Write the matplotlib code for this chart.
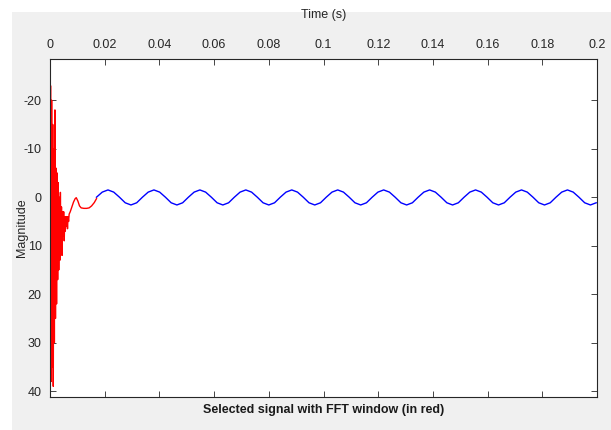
import numpy as np
import matplotlib
matplotlib.use('Agg')
import matplotlib.pyplot as plt
from matplotlib.patches import Rectangle

# red part: FFT window (transient at start)
red_t = [0.0000, 0.0002, 0.0004, 0.0006, 0.0008, 0.0010, 0.0012, 0.0014,
         0.0016, 0.0018, 0.0020, 0.0022, 0.0024, 0.0026, 0.0028, 0.0030,
         0.0032, 0.0034, 0.0036, 0.0038, 0.0040, 0.0042, 0.0044, 0.0046,
         0.0048, 0.0050, 0.0052, 0.0054, 0.0056, 0.0058, 0.0060, 0.0062,
         0.0064, 0.0066, 0.0068, 0.0070, 0.0074, 0.0080, 0.0086, 0.0092,
         0.0096, 0.0102, 0.0108, 0.0114, 0.0124, 0.0134, 0.0143, 0.0152,
         0.0162, 0.0170]
red_y = [41.0, -23.0, 38.0, -20.0, 35.0, -15.0, 39.0, -10.0,
         30.0, -18.0, 25.0, -6.0, 22.0, -5.0, 17.0, -3.0,
         15.0, 0.0, 13.0, -1.0, 10.0, 2.0, 12.0, 3.0,
         8.0, 3.0, 9.0, 4.0, 7.0, 4.0, 6.0, 4.0,
         6.5, 4.0, 5.0, 3.5, 3.0, 2.0, 1.0, 0.3,
         0.1, 0.8, 1.8, 2.2, 2.3, 2.3, 2.2, 1.8,
         1.1, 0.3]

# blue part: rest of the signal, samples every 2.1 ms from 17 ms
blue_t0 = 0.0170
blue_dt = 0.0021
blue_y = [0.0, -1.05, -1.5, -1.05, 0.0, 1.15, 1.6, 1.15,
          0.0, -1.05, -1.5, -1.05, 0.0, 1.15, 1.6, 1.15,
          0.0, -1.05, -1.5, -1.05, 0.0, 1.15, 1.6, 1.15,
          0.0, -1.05, -1.5, -1.05, 0.0, 1.15, 1.6, 1.15,
          0.0, -1.05, -1.5, -1.05, 0.0, 1.15, 1.6, 1.15,
          0.0, -1.05, -1.5, -1.05, 0.0, 1.15, 1.6, 1.15,
          0.0, -1.05, -1.5, -1.05, 0.0, 1.15, 1.6, 1.15,
          0.0, -1.05, -1.5, -1.05, 0.0, 1.15, 1.6, 1.15,
          0.0, -1.05, -1.5, -1.05, 0.0, 1.15, 1.6, 1.15,
          0.0, -1.05, -1.5, -1.05, 0.0, 1.15, 1.6, 1.15,
          0.0, -1.05, -1.5, -1.05, 0.0, 1.15, 1.6, 1.15]

xticks = [0, 0.02, 0.04, 0.06, 0.08, 0.1, 0.12, 0.14, 0.16, 0.18, 0.2]
xtick_labels = ['0', '0.02', '0.04', '0.06', '0.08', '0.1', '0.12', '0.14',
                '0.16', '0.18', '0.2']
yticks = [-20, -10, 0, 10, 20, 30, 40]

title = 'Selected signal with FFT window (in red)'
xlabel = 'Time (s)'
ylabel = 'Magnitude'

plt.rcParams['font.family'] = ['Liberation Sans', 'DejaVu Sans']
plt.rcParams['axes.unicode_minus'] = False

fig = plt.figure(figsize=(6.11, 4.30), dpi=100, facecolor='white')
# grey window background, as in the MATLAB figure
fig.patches.append(Rectangle((12 / 611, 0), 1, 418 / 430,
                             transform=fig.transFigure,
                             facecolor='#f0f0f0', edgecolor='none',
                             zorder=-10))

ax = fig.add_axes([50 / 611, 33 / 430, 547 / 611, 338 / 430], zorder=5)
ax.set_facecolor('white')

blue_t = blue_t0 + blue_dt * np.arange(len(blue_y))
ax.plot(blue_t, blue_y, color='#0000ff', linewidth=1.0)
ax.plot(red_t, red_y, color='#ff0000', linewidth=1.0)

ax.set_xlim(0, 0.2)
ax.set_ylim(41.2, -28.5)
ax.set_xticks(xticks)
ax.set_xticklabels(xtick_labels)
ax.set_yticks(yticks)

ax.tick_params(axis='both', which='both', direction='in', length=4,
               width=0.6, color='#262626', labelsize=9,
               labelcolor='#262626', top=True, right=True,
               labeltop=True, labelbottom=False, pad=6)
for sp in ax.spines.values():
    sp.set_color('#262626')
    sp.set_linewidth(0.8)

ax.xaxis.set_label_position('top')
ax.set_xlabel(xlabel, fontsize=9, color='#262626')
ax.xaxis.set_label_coords(0.5, 1.13)
ax.xaxis.label.set_va('center')
ax.set_ylabel(ylabel, fontsize=9, color='#262626')
ax.yaxis.set_label_coords(-0.052, 0.5)
ax.yaxis.label.set_va('center')
ax.set_title(title, fontsize=9, fontweight='bold', color='#1a1a1a',
             y=-0.064, va='center')

fig.savefig('out.png', dpi=100, facecolor=fig.get_facecolor())
plt.close('all')
